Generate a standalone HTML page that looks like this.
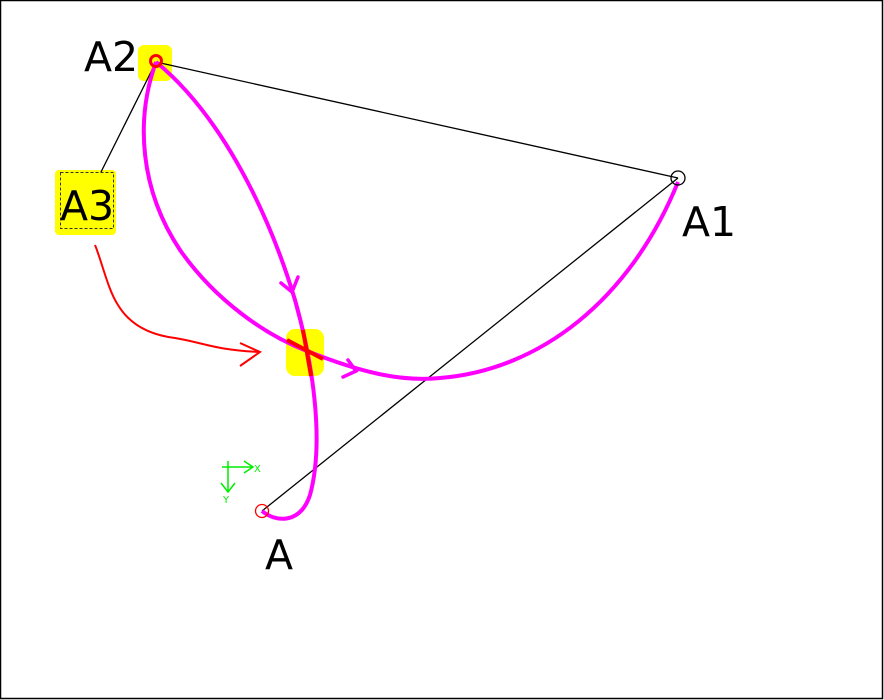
<!DOCTYPE html>
<html><head><meta charset="utf-8"><style>
html,body{margin:0;padding:0;background:#fff;}
svg{display:block;}
text{font-family:"DejaVu Sans","Liberation Sans",sans-serif;}
</style></head><body>
<svg width="884" height="700" viewBox="0 0 884 700" xmlns="http://www.w3.org/2000/svg">
<rect x="0.5" y="0.5" width="882" height="698" fill="#fff" stroke="#000" stroke-width="1.5"/>
<!-- yellow highlights -->
<rect x="138" y="45" width="34" height="36" rx="6" fill="#ffff00"/>
<rect x="55" y="170" width="61" height="65" rx="4" fill="#ffff00"/>
<rect x="286" y="329" width="38" height="47" rx="9" fill="#ffff00"/>
<rect x="60.5" y="172.5" width="53" height="56" fill="none" stroke="#333" stroke-width="1" stroke-dasharray="3,2"/>
<!-- black lines -->
<line x1="156" y1="62" x2="678" y2="178" stroke="#000" stroke-width="1.3"/>
<line x1="156" y1="62" x2="101" y2="172" stroke="#000" stroke-width="1.3"/>
<line x1="262" y1="511" x2="678" y2="178" stroke="#000" stroke-width="1.3"/>
<!-- magenta curves -->
<path d="M156,62 C135,120 140,190 180,250 C215,300 265,335 307,351 C360,372 400,382 440,378 C540,370 630,300 678,182" fill="none" stroke="#ff00ff" stroke-width="4"/>
<path d="M156,62 C215,110 265,200 295,300 C312,360 325,440 310,495 C300,525 275,522 262,511" fill="none" stroke="#ff00ff" stroke-width="4"/>
<!-- arrowheads -->
<path d="M281,283 L292,292 L298,277" fill="none" stroke="#ff00ff" stroke-width="3.5" stroke-linecap="round"/>
<path d="M348,360 L356,371 L343,377" fill="none" stroke="#ff00ff" stroke-width="3.5" stroke-linecap="round"/>
<!-- red cross at intersection -->
<path d="M287,340 L323,359" stroke="#ff0000" stroke-width="4"/>
<path d="M303,330 L311,376" stroke="#ff0000" stroke-width="4"/>
<!-- red circles -->
<circle cx="156" cy="61" r="5.5" fill="none" stroke="#ff0000" stroke-width="3"/>
<circle cx="262" cy="511" r="6.5" fill="none" stroke="#ff0000" stroke-width="1.3"/>
<circle cx="678" cy="178" r="7" fill="none" stroke="#000" stroke-width="1.3"/>
<!-- red hand arrow -->
<path d="M95,245 C102,262 108,290 118,305 C130,325 150,335 175,338 C205,343 215,350 260,352" fill="none" stroke="#ff0000" stroke-width="2"/>
<path d="M240,343 L260,352 L240,366" fill="none" stroke="#ff0000" stroke-width="2"/>
<!-- green axes -->
<g stroke="#00ee00" stroke-width="1.5" fill="none">
<line x1="222" y1="467" x2="253" y2="467"/>
<path d="M244,461 L253,467 L244,473"/>
<line x1="228" y1="461" x2="228" y2="492"/>
<path d="M221,483 L228,492 L235,483"/>
</g>
<text x="254" y="472" font-size="10" fill="#00ee00">X</text>
<text x="223" y="503" font-size="10" fill="#00ee00">Y</text>
<!-- labels -->
<text x="84" y="71" font-size="41" fill="#000">A2</text>
<text x="60" y="220" font-size="41" fill="#000">A3</text>
<text x="682" y="236" font-size="41" fill="#000">A1</text>
<text x="265" y="569" font-size="41" fill="#000">A</text>
</svg>
</body></html>
